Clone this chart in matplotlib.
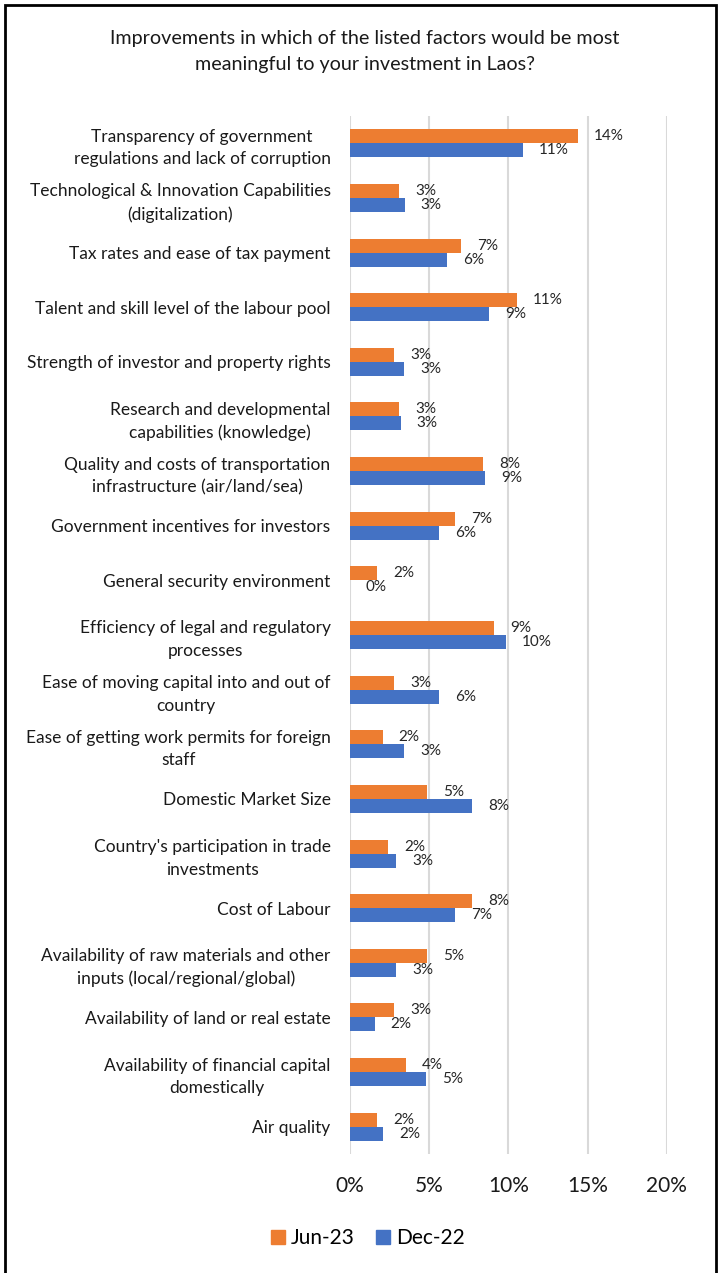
import matplotlib
matplotlib.use("Agg")
import matplotlib.pyplot as plt
from matplotlib.patches import Rectangle, Patch
import math

plt.rcParams['font.family'] = ['Lato', 'DejaVu Sans']

categories = [
    "Transparency of government\nregulations and lack of corruption",
    "Technological & Innovation Capabilities\n(digitalization)",
    "Tax rates and ease of tax payment",
    "Talent and skill level of the labour pool",
    "Strength of investor and property rights",
    "Research and developmental\ncapabilities (knowledge)",
    "Quality and costs of transportation\ninfrastructure (air/land/sea)",
    "Government incentives for investors",
    "General security environment",
    "Efficiency of legal and regulatory\nprocesses",
    "Ease of moving capital into and out of\ncountry",
    "Ease of getting work permits for foreign\nstaff",
    "Domestic Market Size",
    "Country's participation in trade\ninvestments",
    "Cost of Labour",
    "Availability of raw materials and other\ninputs (local/regional/global)",
    "Availability of land or real estate",
    "Availability of financial capital\ndomestically",
    "Air quality",
]
jun23 = [14.4, 3.1, 6.99, 10.55, 2.78, 3.1, 8.42, 6.65, 1.73, 9.1,
         2.78, 2.06, 4.88, 2.42, 7.7, 4.88, 2.78, 3.52, 1.73]
dec22 = [10.9, 3.45, 6.12, 8.78, 3.43, 3.2, 8.52, 5.6, 0.0, 9.85,
         5.6, 3.43, 7.72, 2.9, 6.65, 2.9, 1.56, 4.78, 2.1]
xticks = [0, 5, 10, 15, 20]

orange = '#ED7D31'
blue = '#4472C4'

W, H = 721, 1273
fig = plt.figure(figsize=(W / 100, H / 100), dpi=100)
ax = fig.add_axes([350 / W, (H - 1154) / H, 316.8 / W, 1038 / H])

n = len(categories)
ys = list(range(n))
bh = 0.256
ax.barh([y - bh / 2 for y in ys], jun23, height=bh, color=orange, zorder=3)
ax.barh([y + bh / 2 for y in ys], dec22, height=bh, color=blue, zorder=3)

def lab(v):
    return "%d%%" % math.floor(v + 0.5)

for y, a, b in zip(ys, jun23, dec22):
    ax.annotate(lab(a), (a, y - bh / 2), xytext=(16, 0), textcoords='offset pixels',
                ha='left', va='center', fontsize=11, color='#262626')
    ax.annotate(lab(b), (b, y + bh / 2), xytext=(16, 0), textcoords='offset pixels',
                ha='left', va='center', fontsize=11, color='#262626')

ax.set_xlim(0, 20)
ax.set_ylim(n - 0.5, -0.5)
ax.set_xticks(xticks)
ax.set_xticklabels(["%d%%" % t for t in xticks], fontsize=15, color='#1a1a1a')
ax.set_yticks(ys)
ax.set_yticklabels(categories, fontsize=12.5, color='#1a1a1a', linespacing=1.5)
for t in ax.get_yticklabels():
    t.set_multialignment('center')
ax.tick_params(axis='both', length=0)
ax.tick_params(axis='y', pad=14)
ax.tick_params(axis='x', pad=16)
ax.grid(axis='x', color='#d9d9d9', linewidth=1.5, zorder=0)
for s in ax.spines.values():
    s.set_visible(False)

fig.text(365 / W, 1 - 51.5 / H,
         "Improvements in which of the listed factors would be most\nmeaningful to your investment in Laos?",
         ha='center', va='center', fontsize=14.2, linespacing=1.65, color='#1a1a1a')

handles = [Patch(color=orange, label='Jun-23'), Patch(color=blue, label='Dec-22')]
fig.legend(handles=handles, loc='center', bbox_to_anchor=(368 / W, 1 - 1238 / H), ncol=2,
           frameon=False, fontsize=15, handlelength=0.65, handleheight=0.65,
           handletextpad=0.3, columnspacing=1.0)

fig.patches.append(Rectangle((5 / W, -0.01), 711 / W, (H - 5) / H + 0.01, fill=False,
                             edgecolor='black', linewidth=2, transform=fig.transFigure))

fig.savefig('out.png', dpi=100)
